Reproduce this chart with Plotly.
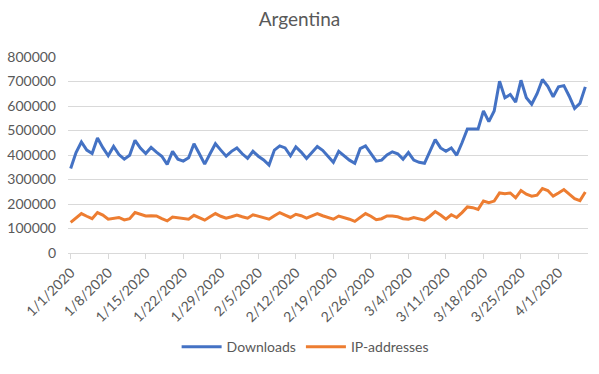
import pandas as pd
import plotly.graph_objects as go

dates = pd.date_range("2020-01-01", "2020-04-06", freq="D")

downloads = [
    345000, 410000, 453000, 420000, 406000, 469000, 430000, 397000, 435000, 402000,
    383000, 399000, 460000, 428000, 406000, 431000, 412000, 395000, 362000, 415000,
    383000, 375000, 389000, 446000, 405000, 363000, 405000, 446000, 420000, 395000,
    415000, 429000, 405000, 386000, 415000, 395000, 380000, 359000, 420000, 437000,
    429000, 397000, 433000, 412000, 386000, 410000, 435000, 419000, 395000, 370000,
    415000, 395000, 379000, 366000, 426000, 437000, 405000, 375000, 379000, 400000,
    413000, 405000, 383000, 410000, 379000, 370000, 366000, 415000, 463000, 429000,
    415000, 429000, 399000, 450000, 506000, 506000, 506000, 580000, 536000, 580000,
    701000, 634000, 647000, 616000, 705000, 634000, 607000, 650000, 708000, 680000,
    638000, 678000, 683000, 640000, 590000, 611000, 678000,
]

ip_addresses = [
    125000, 145000, 161000, 150000, 140000, 165000, 155000, 138000, 142000, 145000,
    135000, 140000, 165000, 158000, 151000, 152000, 151000, 140000, 131000, 147000,
    145000, 140000, 138000, 154000, 145000, 134000, 148000, 161000, 150000, 142000,
    148000, 155000, 148000, 142000, 156000, 150000, 145000, 138000, 152000, 165000,
    155000, 145000, 158000, 152000, 142000, 150000, 161000, 152000, 145000, 138000,
    151000, 145000, 138000, 129000, 145000, 161000, 150000, 136000, 140000, 151000,
    151000, 148000, 140000, 138000, 145000, 140000, 134000, 150000, 169000, 155000,
    138000, 156000, 145000, 165000, 188000, 185000, 178000, 212000, 205000, 212000,
    245000, 242000, 245000, 225000, 255000, 240000, 232000, 236000, 263000, 255000,
    232000, 245000, 259000, 240000, 222000, 214000, 249000,
]

tick_dates = pd.date_range("2020-01-01", "2020-04-06", freq="7D")
tick_labels = [f"{d.month}/{d.day}/{d.year}" for d in tick_dates]
y_ticks = list(range(0, 800001, 100000))

FONT = "Lato, 'Open Sans', sans-serif"
GRAY = "#595959"

fig = go.Figure()
fig.add_trace(go.Scatter(x=dates, y=downloads, mode="lines", name="Downloads",
                         line=dict(color="#4472C4", width=3)))
fig.add_trace(go.Scatter(x=dates, y=ip_addresses, mode="lines", name="IP-addresses",
                         line=dict(color="#ED7D31", width=3)))

fig.update_layout(
    width=599, height=374,
    margin=dict(l=68, r=11, t=57, b=118),
    paper_bgcolor="white", plot_bgcolor="white",
    font=dict(family=FONT, color=GRAY, size=14),
    title=dict(text="Argentina", x=0.5, xanchor="center", y=0.947, yanchor="middle",
               font=dict(family=FONT, size=19, color=GRAY)),
    showlegend=True,
    legend=dict(orientation="h", x=0.456, xanchor="center", y=-0.48, yanchor="middle",
                font=dict(family=FONT, size=14, color=GRAY), itemwidth=40),
    xaxis=dict(
        range=["2019-12-31 12:00", "2020-04-06 12:00"],
        tickvals=list(tick_dates), ticktext=tick_labels, tickangle=-45,
        showgrid=False, showline=True, linecolor="#d9d9d9", linewidth=1,
        ticks="outside", ticklen=5, tickcolor="#d9d9d9", automargin=False,
        tickfont=dict(family=FONT, size=14, color=GRAY),
    ),
    yaxis=dict(
        range=[0, 800000], tickvals=y_ticks, ticktext=[str(v) for v in y_ticks],
        showgrid=True, gridcolor="#d9d9d9", gridwidth=1, zeroline=False,
        showline=False, ticks="", ticklabelstandoff=11, automargin=False,
        tickfont=dict(family=FONT, size=14, color=GRAY),
    ),
)

fig.write_html("out.html", config={"displayModeBar": False},
               post_script="document.body.style.margin='0px';")
